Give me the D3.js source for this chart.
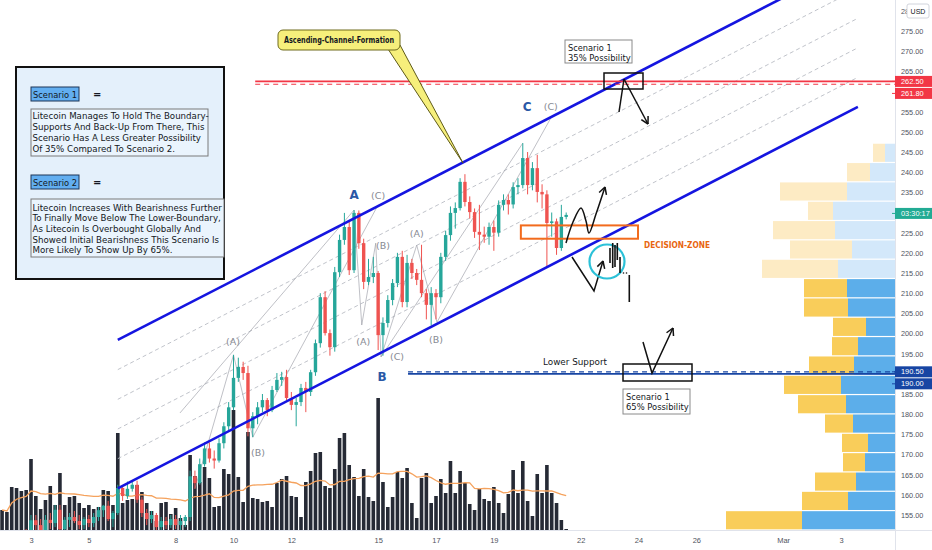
<!DOCTYPE html>
<html>
<head>
<meta charset="utf-8">
<script src="https://cdn.jsdelivr.net/npm/d3@7"></script>
<style>
  body { margin: 0; background: #fff; }
  svg { display: block; font-family: 'DejaVu Sans', sans-serif; }
</style>
</head>
<body>
<script>
// LTC/USD 4h candles, Feb 2 2021 00:00 UTC onwards
const barStart = Date.UTC(2021, 1, 2);
const H4 = 4 * 3600 * 1000;

const opens = [147,148,147,149.5,148.5,150.5,149,153.7,152.5,151,153.8,153,156.3,151.5,153.8,154.5,153.5,152.5,154,153,
  154.5,156.2,157.3,154,155.5,161.7,159.7,161.5,162.5,158.8,155.5,154,155,152,153.5,152.5,154,152.5,153.5,154.5,
  164.6,162.9,167.6,171.5,169,168.5,172.8,177,181.7,189,191.7,190.2,176.5,179.5,181.7,183.5,181,186,188.5,189.2,
  184,182.3,183,186.5,185.5,190.4,197.6,209,200.1,196.6,215.2,223.2,226.4,215.7,229.9,222.4,212.8,214,215,199.6,
  202.6,208.3,212.5,219,207.8,217.5,215,213.3,210,207.1,210,209,219,224.4,229.9,231.1,237.6,232.6,230.1,225.2,
  224.5,224,226.4,225,231.9,233.1,232,236.3,236.8,243.5,236.8,241,235.1,234.5,227.4,227.8,221.2,228.9];
const highs = [148.5,149.5,150,150.5,151,151.5,155,155,154,155,155.5,157.5,157.5,154.5,155.5,156,155,154.5,155,155.5,
  157,157.5,158.5,156,162.5,162,163.3,163.5,163.5,159.5,156.5,156,155.5,154.5,154.5,155,155,155,155,166,
  166,169,173,173,171,174,178,183,194.7,194,193,192,180.5,183,185,184,187,190.2,190.5,191,
  185.5,184,187.5,188,191,198.5,210,210.5,201,216.5,224.5,229.9,228,230.6,230.5,223.5,218.5,219,215.5,204,
  209.5,213.5,220,220.5,219.5,218.5,216,222,211,211.5,211,220,225.5,231.5,232.5,238.5,239.5,234,231,231.9,
  226.5,227.5,228,233,234.5,234.5,237.5,238.5,247.2,245,242.5,244.3,237,235.5,230,228.5,231.9,230];
const lows = [145.5,146.5,146,147.5,148,148.5,148.5,151,149.5,150,151.5,152,150,150,152,153,151.5,151.5,152,152,
  153.5,154.5,153.5,152,155,158.5,159,160.8,158,154.5,152.5,153,151,151,151.5,151.8,151.5,151,152,153.5,
  161.5,162.5,167,168,166.5,168,171.5,176,181,188,188.5,174.5,174.3,177.5,180.5,179.5,180.5,185.5,187,183.5,
  181,177,182,180.5,184.5,189.5,196.5,199.5,194.5,195.5,214,222,214.5,215,221,211,212,212.5,195.9,194.5,
  201.5,207,211.5,206.5,206.5,213.5,212,209,203.5,202,203.5,207.5,218,223,226,230.5,231.5,228.5,223.7,220.7,
  222.5,222,220.5,224,230.5,229.5,231,234.5,236,234.5,235.5,232.5,231,216.5,224,219.5,220.5,228.3];
const closes = [148,147,149.5,148.5,150.5,149,153.7,152.5,151,153.8,153,156.3,151.5,153.8,154.5,153.5,152.5,154,153,154.5,
  156.2,157.3,154,155.5,161.7,159.7,161.5,162.5,158.8,155.5,154,155,152,153.5,152.5,154,152.5,153.5,154.5,164.6,
  162.9,167.6,171.5,169,168.5,172.8,177,181.7,189,191.7,190.2,176.5,179.5,181.7,183.5,181,186,188.5,189.2,184,
  182.3,183,186.5,185.5,190.4,197.6,209,200.1,196.6,215.2,223.2,226.4,215.7,229.9,222.4,212.8,214,215,199.6,202.6,
  208.3,212.5,219,207.8,217.5,215,213.3,210,207.1,210,209,219,224.4,229.9,231.1,237.6,232.6,230.1,225.2,224.5,
  224,226.4,225,231.9,233.1,232,236.3,236.8,243.5,236.8,241,235.1,234.5,227.4,227.8,221.2,228.9,229.4];
// volume in thousands of LTC
const volumes = [200,180,430,420,390,400,710,340,210,300,440,250,570,250,330,340,270,220,250,210,
  230,400,390,250,970,270,300,310,450,380,270,190,90,270,280,160,220,120,50,750,
  540,480,630,520,230,240,610,560,1200,530,280,980,320,310,280,290,230,470,510,540,
  340,330,130,480,590,770,780,440,420,610,920,970,650,530,340,610,330,290,1320,480,
  230,330,580,520,620,270,120,520,570,270,340,510,370,690,370,590,470,260,200,410,
  310,290,430,270,170,360,600,370,690,290,140,560,370,650,370,270,100,10];

// time axis
const dateTicks = ['2021-02-03','2021-02-05','2021-02-08','2021-02-10','2021-02-12','2021-02-15','2021-02-17',
  '2021-02-19','2021-02-22','2021-02-24','2021-02-26','2021-03-01','2021-03-03'];
const dateTickLabels = ['3','5','8','10','12','15','17','19','22','24','26','Mar','3'];
const priceTicks = d3.range(155, 281, 5);

// visible range volume profile, bottom row first (k LTC)
const profDown = [3040,1840,1640,880,1040,1120,1920,2280,1800,1040,1320,1760,1720,3040,2480,2480,1000,2680,920,480];
const profUp   = [3720,1880,1560,1200,1080,1680,1960,2160,1640,1480,1160,1880,1920,2280,1720,2400,2480,1920,1000,400];
const profRange = [151.3, 247.2];
const valueAreaTop = 214;

// drawn levels
const redLevels = [262.5, 261.8];   // solid, dashed
const blueLevels = [190.5, 190.0];  // dashed, solid
const chanUpper = [[24, 198.4], [177.5, 292.8]];
const chanLower = [[24, 161.6], [177.5, 256.2]];
const fibLevels = [0.2, 0.4, 0.6, 0.8];
const decisionZone = { from: 107.6, to: 131.9, top: 226.8, bottom: 223.5 };

// elliott wave sketch, [bar, price]
const waveLines = [
  [[40,161.5],[48,194.7],[52,174.3],[78,231.9]],
  [[36.9,180.3],[73,230.6]],
  [[73,230.6],[74.6,202.1],[77.5,222.4],[78.6,194.2]],
  [[78.6,194.2],[86,221.9],[90.2,202.8],[113.8,253.4]],
  [[78.6,194.2],[108,247.2]]
];
const waveLabels = [
  ['(A)',47.9,198.1,0],['(B)',53.1,170.6,0],['A',73,234.3,1],['(C)',78,234.3,0],
  ['(B)',79,221.7,0],['(A)',74.9,198.1,0],['(C)',81.9,194.2,0],['B',78.8,189.2,1],
  ['(A)',86,224.7,0],['(B)',90,198.6,0],['C',108.9,256.2,1],['(C)',113.8,256.4,0]
];

const scen1Lines = ['Litecoin Manages To Hold The Boundary-','Supports And Back-Up From There, This',
  'Scenario Has A Less Greater Possibility','Of 35% Compared To Scenario 2.'];
const scen2Lines = ['Litecoin Increases With Bearishness Further','To Finally Move Below The Lower-Boundary,',
  'As Litecoin Is Overbought Globally And','Showed Initial Bearishness This Scenario Is','More Likely To Show Up By 65%.'];

// layout
const W = 932, H = 550, plotR = 895, plotB = 530;
const green = '#26a69a', red = '#ef5350';

const svg = d3.select('body').append('svg').attr('width', W).attr('height', H);
svg.append('rect').attr('width', W).attr('height', H).attr('fill', '#fff');

const x = d3.scaleUtc()
  .domain([new Date(Date.UTC(2021,1,3)), new Date(Date.UTC(2021,2,3))])
  .range([31, 841]);
const y = d3.scaleLinear().domain([155, 275]).range([515, 31]);
const yVol = d3.scaleLinear().domain([0, 2000]).range([plotB, plotB - 200]);
const bt = i => new Date(barStart + i * H4);
const bx = i => x(bt(i));

svg.append('clipPath').attr('id', 'plot').append('rect').attr('width', plotR).attr('height', plotB);
const g = svg.append('g').attr('clip-path', 'url(#plot)');

// volume
g.selectAll('.vol').data(volumes).join('rect')
  .attr('x', (d, i) => bx(i) - 1.8).attr('width', 3.6)
  .attr('y', d => yVol(d)).attr('height', d => plotB - yVol(d))
  .attr('fill', '#262a35');

const ma = volumes.map((d, i) => d3.mean(volumes.slice(Math.max(0, i - 19), i + 1)));
g.append('path').datum(ma)
  .attr('d', d3.line().x((d, i) => bx(i)).y(d => yVol(d)))
  .attr('fill', 'none').attr('stroke', '#f5a25d').attr('stroke-width', 1.3);

// channel inner levels
const lerp = (a, b, f) => a + (b - a) * f;
fibLevels.forEach(f => {
  g.append('line')
    .attr('x1', bx(chanLower[0][0])).attr('y1', y(lerp(chanLower[0][1], chanUpper[0][1], f)))
    .attr('x2', bx(chanLower[1][0])).attr('y2', y(lerp(chanLower[1][1], chanUpper[1][1], f)))
    .attr('stroke', '#b9bcc4').attr('stroke-width', 0.9).attr('stroke-dasharray', '4,3');
});

// wave sketch
const wline = d3.line().x(d => bx(d[0])).y(d => y(d[1]));
waveLines.forEach(pts => {
  g.append('path').attr('d', wline(pts)).attr('fill', 'none')
    .attr('stroke', '#9a9ca5').attr('stroke-width', 0.8).attr('opacity', 0.8);
});

// candles
const idx = d3.range(opens.length);
g.selectAll('.wick').data(idx).join('line')
  .attr('x1', i => bx(i)).attr('x2', i => bx(i))
  .attr('y1', i => y(highs[i])).attr('y2', i => y(lows[i]))
  .attr('stroke', i => closes[i] >= opens[i] ? green : red).attr('stroke-width', 1);
g.selectAll('.body').data(idx).join('rect')
  .attr('x', i => bx(i) - 1.7).attr('width', 3.4)
  .attr('y', i => y(Math.max(opens[i], closes[i])))
  .attr('height', i => Math.max(1, Math.abs(y(opens[i]) - y(closes[i]))))
  .attr('fill', i => closes[i] >= opens[i] ? green : red);

// wave labels
waveLabels.forEach(([t, i, p, main]) => {
  g.append('text').attr('x', bx(i)).attr('y', y(p))
    .attr('text-anchor', 'middle').attr('dominant-baseline', 'central')
    .attr('font-size', main ? 12 : 9.5).attr('font-weight', main ? 'bold' : 'normal')
    .attr('fill', main ? '#2a58a6' : '#878a93').text(t);
});

// channel
[chanUpper, chanLower].forEach(c => {
  g.append('line').attr('x1', bx(c[0][0])).attr('y1', y(c[0][1]))
    .attr('x2', bx(c[1][0])).attr('y2', y(c[1][1]))
    .attr('stroke', '#1515e0').attr('stroke-width', 2.6);
});

// horizontal levels
g.append('line').attr('x1', bx(52.5)).attr('x2', plotR).attr('y1', y(redLevels[0])).attr('y2', y(redLevels[0]))
  .attr('stroke', '#f23645').attr('stroke-width', 1.6);
g.append('line').attr('x1', bx(52.5)).attr('x2', plotR).attr('y1', y(redLevels[1])).attr('y2', y(redLevels[1]))
  .attr('stroke', '#f23645').attr('stroke-width', 1.2).attr('stroke-dasharray', '5,4');

// volume profile
const nb = profUp.length, bs = (profRange[1] - profRange[0]) / nb;
const xp = d3.scaleLinear().domain([0, 8000]).range([0, 200]);
profUp.forEach((u, k) => {
  const lo = profRange[0] + k * bs, hi = lo + bs;
  const inVA = hi <= valueAreaTop;
  const yt = y(hi) + 0.6, hh = y(lo) - y(hi) - 1.2;
  g.append('rect').attr('x', plotR - xp(u)).attr('width', xp(u)).attr('y', yt).attr('height', hh)
    .attr('fill', inVA ? '#5caeea' : '#d3e8fa');
  g.append('rect').attr('x', plotR - xp(u) - xp(profDown[k])).attr('width', xp(profDown[k]))
    .attr('y', yt).attr('height', hh).attr('fill', inVA ? '#f9cd5a' : '#fdebc4');
});

g.append('line').attr('x1', bx(84.2)).attr('x2', plotR).attr('y1', y(blueLevels[0])).attr('y2', y(blueLevels[0]))
  .attr('stroke', '#1745a3').attr('stroke-width', 1.3).attr('stroke-dasharray', '5,4');
g.append('line').attr('x1', bx(84.2)).attr('x2', plotR).attr('y1', y(blueLevels[1])).attr('y2', y(blueLevels[1]))
  .attr('stroke', '#1745a3').attr('stroke-width', 1.8);

// decision zone
g.append('rect').attr('x', bx(decisionZone.from)).attr('y', y(decisionZone.top))
  .attr('width', bx(decisionZone.to) - bx(decisionZone.from))
  .attr('height', y(decisionZone.bottom) - y(decisionZone.top))
  .attr('fill', 'none').attr('stroke', '#f26b1d').attr('stroke-width', 2);

function fitText(sel, w) { return sel.attr('textLength', w).attr('lengthAdjust', 'spacingAndGlyphs'); }
function txt(px, py, s, size, w, opt = {}) {
  const t = svg.append('text').attr('x', px).attr('y', py).attr('font-size', size)
    .attr('fill', opt.fill || '#131722').attr('font-weight', opt.bold ? 'bold' : 'normal')
    .attr('text-anchor', opt.anchor || 'start').text(s);
  if (w) fitText(t, w);
  return t;
}

txt(644, 248, 'DECISION-ZONE', 9.5, 66, { fill: '#e8650f', bold: true });

// arrows
function arrow(pts, curve) {
  const line = d3.line();
  if (curve) line.curve(d3.curveCatmullRom);
  svg.append('path').attr('d', line(pts)).attr('fill', 'none').attr('stroke', '#111').attr('stroke-width', 1.5);
  const tip = pts[pts.length - 1], from = pts[pts.length - 2];
  const a = Math.atan2(tip[1] - from[1], tip[0] - from[0]);
  [a + Math.PI - 0.5, a + Math.PI + 0.5].forEach(b => {
    svg.append('line').attr('x1', tip[0]).attr('y1', tip[1])
      .attr('x2', tip[0] + 8 * Math.cos(b)).attr('y2', tip[1] + 8 * Math.sin(b))
      .attr('stroke', '#111').attr('stroke-width', 1.5);
  });
}
arrow([[566,243],[573,222],[581,208],[586,221],[589,233],[596,214],[605,187]], true);
arrow([[572,257],[594,291],[603,261]]);
svg.append('line').attr('x1', 619).attr('y1', 112).attr('x2', 624).attr('y2', 79).attr('stroke', '#111').attr('stroke-width', 1.5);
arrow([[624,79],[648,124]]);
arrow([[643,342],[652,373],[673,328]]);

svg.append('ellipse').attr('cx', 607).attr('cy', 261.5).attr('rx', 17.5).attr('ry', 17)
  .attr('fill', 'none').attr('stroke', '#2cc1d8').attr('stroke-width', 2.2);
[[610,248,263],[612.7,243,268],[615,245,267],[617.3,243,260],[620,257,273],[629.3,275,302]].forEach(([lx, a, b]) => {
  svg.append('line').attr('x1', lx).attr('x2', lx).attr('y1', a).attr('y2', b).attr('stroke', '#111').attr('stroke-width', 1.6);
});
[[623.5,273],[626.5,273]].forEach(([cx, cy]) => svg.append('circle').attr('cx', cx).attr('cy', cy).attr('r', 0.8).attr('fill', '#111'));

// boxes
svg.append('rect').attr('x', 604).attr('y', 73).attr('width', 39).attr('height', 16)
  .attr('fill', 'none').attr('stroke', '#111').attr('stroke-width', 1.5);
svg.append('rect').attr('x', 623).attr('y', 364).attr('width', 69).attr('height', 17)
  .attr('fill', 'none').attr('stroke', '#111').attr('stroke-width', 1.5);

svg.append('rect').attr('x', 565).attr('y', 40).attr('width', 67).attr('height', 23)
  .attr('fill', '#fff').attr('stroke', '#8a8a8a');
txt(568, 50.5, 'Scenario 1', 8.5, 43.7);
txt(568, 60.5, '35% Possibility', 8.5, 62.7);

svg.append('rect').attr('x', 623).attr('y', 389).attr('width', 67).attr('height', 25)
  .attr('fill', '#fff').attr('stroke', '#8a8a8a');
txt(626, 399.5, 'Scenario 1', 8.5, 43.7);
txt(626, 410, '65% Possibility', 8.5, 62.7);

txt(543, 365, 'Lower Support', 9, 64);

// callout
svg.append('polygon').attr('points', '388,49 400,45 463,163')
  .attr('fill', '#f6ef7b').attr('stroke', '#5e5a18').attr('stroke-width', 1);
svg.append('rect').attr('x', 278).attr('y', 30).attr('width', 122).attr('height', 20).attr('rx', 5)
  .attr('fill', '#f6ef7b').attr('stroke', '#6e6a1c');
txt(339, 43, 'Ascending-Channel-Formation', 8, 110, { bold: true, anchor: 'middle' });

// scenario panel
svg.append('rect').attr('x', 16).attr('y', 67).attr('width', 208).attr('height', 212)
  .attr('fill', '#e4f0fb').attr('stroke', '#111').attr('stroke-width', 2);
[[87, 'Scenario 1'], [175, 'Scenario 2']].forEach(([ty, s]) => {
  svg.append('rect').attr('x', 31).attr('y', ty).attr('width', 48).attr('height', 14)
    .attr('fill', '#62aef0').attr('stroke', '#1d3557');
  txt(33, ty + 10.5, s, 9, 44);
  txt(93, ty + 11, '=', 10, null, { bold: true });
});
svg.append('rect').attr('x', 31).attr('y', 109).attr('width', 177).attr('height', 47)
  .attr('fill', '#eaf4fd').attr('stroke', '#7a7a7a');
svg.append('rect').attr('x', 31).attr('y', 199).attr('width', 193).attr('height', 58)
  .attr('fill', '#eaf4fd').attr('stroke', '#7a7a7a');

function natW(s) {
  const p = svg.append('text').attr('font-size', 9).text(s);
  const w = p.node().getComputedTextLength();
  p.remove();
  return w;
}
const k = 189.3 / natW(scen2Lines[0]);
scen1Lines.forEach((s, i) => txt(32.5, 118.5 + i * 11, s, 9, natW(s) * k));
scen2Lines.forEach((s, i) => txt(32.5, 210.5 + i * 10.7, s, 9, natW(s) * k));

// axes
svg.append('line').attr('x1', 0).attr('x2', W).attr('y1', plotB + 0.5).attr('y2', plotB + 0.5).attr('stroke', '#e0e3eb');
svg.append('line').attr('x1', plotR + 0.5).attr('x2', plotR + 0.5).attr('y1', 0).attr('y2', H).attr('stroke', '#e0e3eb');

const xAxis = d3.axisBottom(x)
  .tickValues(dateTicks.map(d => new Date(d + 'T00:00:00Z')))
  .tickFormat((d, i) => dateTickLabels[i]).tickSize(0).tickPadding(8);
svg.append('g').attr('transform', `translate(0,${plotB})`).call(xAxis)
  .call(a => a.select('.domain').remove())
  .selectAll('text').attr('font-family', 'Liberation Sans, sans-serif').attr('font-size', 7.5).attr('fill', '#50535e');

// price tags on the axis (tick labels under them are hidden, as on the platform)
const tags = [
  [y(redLevels[0]), d3.format('.2f')(redLevels[0]), '#f23645'],
  [y(redLevels[0]) + 12, d3.format('.2f')(redLevels[1]), '#f23645'],
  [y(blueLevels[0]), d3.format('.2f')(blueLevels[0]), '#1745a3'],
  [y(blueLevels[0]) + 12, d3.format('.2f')(blueLevels[1]), '#1745a3'],
  [y(closes[closes.length - 1]) - 1.5, '03:30:17', '#22ab94']
];
const visibleTicks = priceTicks.filter(p => tags.every(t => Math.abs(y(p) - t[0]) > 8));

const yAxis = d3.axisRight(y).tickValues(visibleTicks).tickFormat(d3.format('.2f')).tickSize(0).tickPadding(6);
svg.append('g').attr('transform', `translate(${plotR},0)`).call(yAxis)
  .call(a => a.select('.domain').remove())
  .selectAll('text').attr('font-family', 'Liberation Sans, sans-serif').attr('font-size', 7.3).attr('fill', '#50535e');

tags.forEach(([cy, s, fill]) => {
  svg.append('rect').attr('x', plotR).attr('y', cy - 5.5).attr('width', W - plotR).attr('height', 11).attr('fill', fill);
  svg.append('line').attr('x1', plotR - 3).attr('x2', plotR).attr('y1', cy).attr('y2', cy).attr('stroke', fill);
  svg.append('text').attr('x', plotR + 6).attr('y', cy + 2.6).attr('font-family', 'Liberation Sans, sans-serif')
    .attr('font-size', 7.4).attr('fill', '#fff').text(s);
});

svg.append('rect').attr('x', 907).attr('y', 4).attr('width', 22).attr('height', 14).attr('rx', 2)
  .attr('fill', '#fff').attr('stroke', '#d1d4dc');
svg.append('text').attr('x', 918).attr('y', 13.5).attr('text-anchor', 'middle')
  .attr('font-family', 'Liberation Sans, sans-serif').attr('font-size', 7).attr('fill', '#131722').text('USD');
</script>
</body>
</html>
